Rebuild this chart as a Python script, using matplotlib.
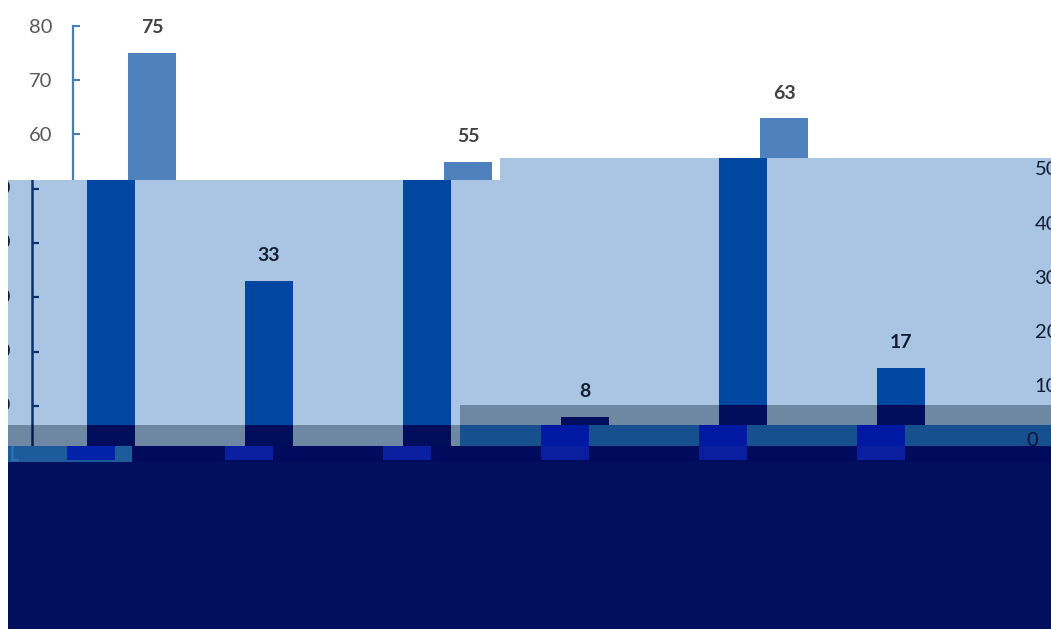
import numpy as np
import matplotlib
matplotlib.use("Agg")
import matplotlib.pyplot as plt

plt.rcParams['font.family'] = ['Lato', 'DejaVu Sans']

# data
values = [75, 33, 55, 8, 63, 17]
y_ticks = [0, 10, 20, 30, 40, 50, 60, 70, 80]
right_ticks = [0, 10, 20, 30, 40, 50]

# pixel layout of the (undamaged) chart
W, H = 1051, 629
X0, DX = 152, 158       # centre of first bar, distance between bars
Y0, DY = 460, 5.425     # pixel row of value 0, pixels per unit
BAR_W = 0.31
LEFT_X = -0.5 - 21 / DX  # right edge of the y tick labels
RIGHT_X = 5.5 + 78 / DX  # right edge of the stray right-hand labels

fig = plt.figure(figsize=(W / 100, H / 100), dpi=100)
x = np.arange(len(values))


def window(x1, y1, x2, y2, shift=0):
    """axes over a pixel box, showing the chart moved sideways by `shift` px"""
    ax = fig.add_axes([x1 / W, 1 - y2 / H, (x2 - x1) / W, (y2 - y1) / H])
    ax.set_xlim((x1 - X0 - shift) / DX, (x2 - X0 - shift) / DX)
    ax.set_ylim((Y0 - y2) / DY, (Y0 - y1) / DY)
    return ax


# main chart
ax = window(73, 26, 1021, 460)
bars = ax.bar(x, values, BAR_W, color='#4f81bd')
ax.bar_label(bars, padding=12, fontsize=14, fontweight='bold', color='#404040')
for s in ['top', 'right', 'bottom']:
    ax.spines[s].set_visible(False)
ax.spines['left'].set_color('#4a7db6')
ax.spines['left'].set_linewidth(1.6)
ax.set_xticks([])
ax.set_yticks(y_ticks)
ax.tick_params(axis='y', direction='in', length=5, width=1.5, color='#4a7db6',
               pad=15, labelsize=14.5, labelcolor='#595959')


def inside(g, xv, yv, half_h=7):
    """is a text anchored at (xv, yv) at least partly in the window"""
    x0, x1 = g.get_xlim()
    y0, y1 = g.get_ylim()
    pad = half_h / DY
    return x0 - 0.02 < xv < x1 + 0.2 and y0 - pad < yv < y1 + pad


def glitch(x1, y1, x2, y2, shift, bg, bar_c, axis_c, text_c):
    """a broken slice of the chart, copied with other colours"""
    g = window(x1, y1, x2, y2, shift)
    g.set_facecolor(bg)
    for s in g.spines.values():
        s.set_visible(False)
    g.set_xticks([])
    g.set_yticks([])
    b = g.bar(x, values, BAR_W, color=bar_c, zorder=2)
    labels = [str(v) if inside(g, i, v + 26 / DY) else '' for i, v in zip(x, values)]
    g.bar_label(b, labels=labels, padding=12, fontsize=14, fontweight='bold',
                color=text_c, clip_on=True, annotation_clip=False)
    g.plot([-0.5, -0.5], [0, 80], color=axis_c, lw=1.8, zorder=3)
    g.hlines(y_ticks, -0.5, -0.5 + 7 / DX, color=axis_c, lw=1.6, zorder=3)
    for v in y_ticks:
        if inside(g, LEFT_X, v):
            g.text(LEFT_X, v, str(v), ha='right', va='center', fontsize=14.5,
                   color=text_c, clip_on=True)
    for v in right_ticks:
        if inside(g, RIGHT_X, v + 19 / DY):
            g.text(RIGHT_X, v + 19 / DY, str(v), ha='right', va='center', fontsize=14.5,
                   color=text_c, clip_on=True)
    return g


light = dict(bg='#a9c5e3', bar_c='#0047a1', axis_c='#0b3270', text_c='#141c30')
grey = dict(bg='#6e87a2', bar_c='#000d5a', axis_c='#061a4a', text_c='#0a1430')
mid = dict(bg='#16508f', bar_c='#0019a3', axis_c='#0a2a70', text_c='#0a1430')

glitch(8, 180, 460, 425, -41, **light)
glitch(460, 180, 500, 405, -41, **light)
glitch(500, 158, 1051, 405, -41, **light)
glitch(8, 425, 460, 446, -41, **grey)
glitch(460, 405, 1051, 425, -41, **grey)
glitch(460, 425, 1051, 446, -61, **mid)
glitch(8, 446, 132, 462, -61, bg='#1c5c9c', bar_c='#0021a8', axis_c='#2a70b0', text_c='#0a1430')
glitch(132, 446, 1051, 462, -61, bg='#000b5e', bar_c='#0a1fa0', axis_c='#0a2a70', text_c='#0a1430')

bottom = window(8, 462, 1051, 629)
bottom.set_facecolor('#010f5c')
for s in bottom.spines.values():
    s.set_visible(False)
bottom.set_xticks([])
bottom.set_yticks([])

fig.savefig('out.png', dpi=100)
